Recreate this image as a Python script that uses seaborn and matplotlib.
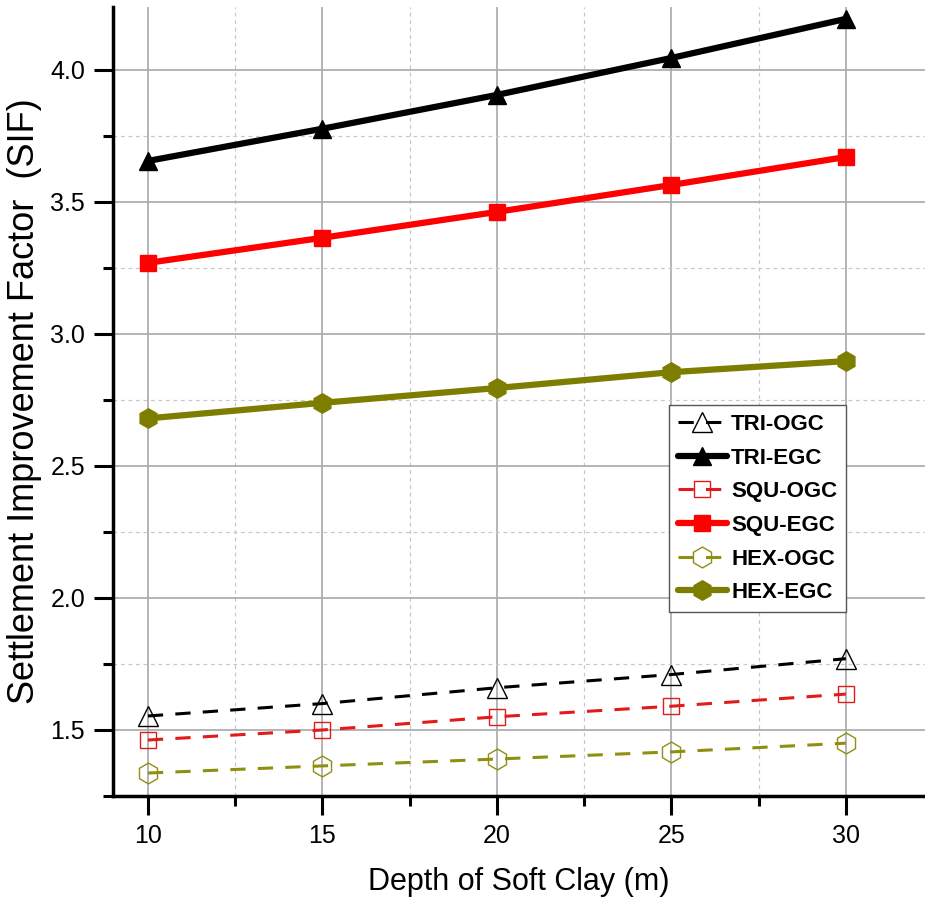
import matplotlib
matplotlib.use("Agg")
import matplotlib.pyplot as plt
import seaborn as sns
import pandas as pd
from matplotlib.ticker import MultipleLocator

depth = [10, 15, 20, 25, 30]
tri_ogc = [1.553, 1.600, 1.660, 1.710, 1.770]
tri_egc = [3.655, 3.777, 3.905, 4.045, 4.193]
squ_ogc = [1.462, 1.500, 1.550, 1.590, 1.636]
squ_egc = [3.269, 3.364, 3.462, 3.564, 3.670]
hex_ogc = [1.337, 1.364, 1.390, 1.417, 1.450]
hex_egc = [2.680, 2.739, 2.795, 2.855, 2.897]

labels = ["TRI-OGC", "TRI-EGC", "SQU-OGC", "SQU-EGC", "HEX-OGC", "HEX-EGC"]

sns.set_style("white")
plt.rcParams['font.family'] = ['Liberation Sans', 'DejaVu Sans']
plt.rcParams['text.color'] = 'black'
plt.rcParams['axes.labelcolor'] = 'black'
plt.rcParams['xtick.color'] = 'black'
plt.rcParams['ytick.color'] = 'black'

fig = plt.figure(figsize=(9.25, 9.01), dpi=100)
ax = fig.add_axes([113/925, 1-796/901, (925-113)/925, (796-7)/901])

series = [
    (tri_ogc, labels[0], "black", "^", True, 2.2, 14, "none"),
    (tri_egc, labels[1], "black", "^", False, 4.5, 13, "black"),
    (squ_ogc, labels[2], "#e31a1c", "s", True, 2.2, 12, "none"),
    (squ_egc, labels[3], "#ff0000", "s", False, 4.5, 12, "#ff0000"),
    (hex_ogc, labels[4], "#8f8f10", "h", True, 2.2, 15, "none"),
    (hex_egc, labels[5], "#7d7d00", "h", False, 4.5, 14, "#7d7d00"),
]

for vals, lab, col, mk, dashed, lw, ms, fc in series:
    df = pd.DataFrame({"Depth": depth, "SIF": vals})
    kw = dict(dashes=(5, 4)) if dashed else {}
    sns.lineplot(data=df, x="Depth", y="SIF", ax=ax, color=col, marker=mk,
                 linewidth=lw, markersize=ms, markerfacecolor=fc,
                 markeredgecolor=col, markeredgewidth=1.0,
                 label=lab, zorder=3, **kw)

ax.set_xlim(9.0, 9.0 + 812/34.9)
ax.set_ylim(1.25, 4.238)

ax.xaxis.set_minor_locator(MultipleLocator(2.5))
ax.yaxis.set_minor_locator(MultipleLocator(0.25))
ax.set_yticks([1.5, 2.0, 2.5, 3.0, 3.5, 4.0])
ax.set_xticks([10, 15, 20, 25, 30])

ax.grid(which="major", color="#a8a8a8", linewidth=1.2, linestyle="-")
ax.grid(which="minor", color="#c8c8c8", linewidth=0.9, linestyle=(0, (3, 3)))
ax.set_axisbelow(True)

for s in ["top", "right"]:
    ax.spines[s].set_visible(False)
for s in ["left", "bottom"]:
    ax.spines[s].set_linewidth(2.5)
    ax.spines[s].set_color("black")

ax.tick_params(which="major", direction="out", length=14, width=2.2, labelsize=18, pad=6, left=True, bottom=True)
ax.tick_params(which="minor", direction="out", length=7, width=2.2, left=True, bottom=True)

ax.set_xlabel("Depth of Soft Clay (m)", fontsize=22, labelpad=14)
ax.set_ylabel("Settlement Improvement Factor  (SIF)", fontsize=26)
ax.yaxis.set_label_coords(-0.087, 0.5)

leg = ax.legend(loc="upper left", bbox_to_anchor=(669/925, 1-405/901), bbox_transform=fig.transFigure,
                frameon=True, fancybox=False, edgecolor="#555555", framealpha=1,
                prop={"weight": "bold", "size": 16}, handlelength=2.2, handletextpad=0.2,
                labelspacing=0.57, borderpad=0.4, borderaxespad=0)
leg.get_frame().set_linewidth(1.0)

fig.savefig("out.png", dpi=100)
